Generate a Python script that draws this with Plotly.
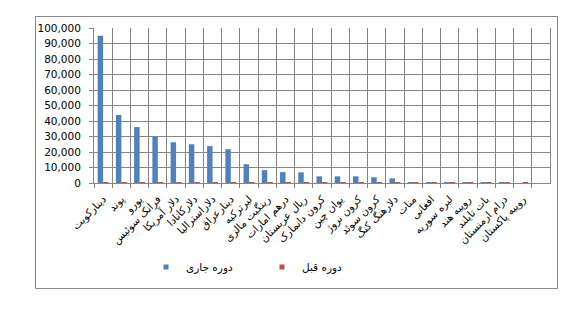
import plotly.graph_objects as go

categories = [
    "دینارکویت", "پوند", "یورو", "فرانک سوئیس", "دلار آمریکا", "دلارکانادا",
    "دلاراسترالیا", "دینارعراق", "لیرترکیه", "رینگیت مالزی", "درهم امارات",
    "ریال عربستان", "کرون دانمارک", "یوان چین", "کرون نروژ", "کرون سوئد",
    "دلارهنگ کنگ", "منات", "افغانی", "لیره سوریه", "روپیه هند", "بات تایلند",
    "درام ارمنستان", "روپیه پاکستان",
]
current = [95000, 43900, 36100, 29800, 26300, 25000, 23800, 21800, 12100, 8300,
           7000, 6900, 4300, 4300, 4300, 3700, 3000, 450, 450, 450, 450, 450, 450, None]
previous = [500, 500, 500, 500, 500, 500, 500, 500, 500, 500, 500, 500,
            500, 500, 500, 500, 500, 500, 500, 500, 500, 500, 500, 500]
name_current = "دوره جاری"
name_previous = "دوره قبل"
ytick_vals = list(range(0, 100001, 10000))

BLUE = "#4F81BD"
RED = "#C0504D"
GRID = "#878787"
FONT = "DejaVu Sans"

fig = go.Figure()
fig.add_trace(go.Bar(x=categories, y=current, marker=dict(color=BLUE, line=dict(width=0)),
                     showlegend=False, name=name_current))
fig.add_trace(go.Bar(x=categories, y=previous, marker=dict(color=RED, line=dict(width=0)),
                     showlegend=False, name=name_previous))
# legend entries (small square symbols like the reference)
fig.add_trace(go.Scatter(x=[None], y=[None], mode="markers", name=name_current,
                         marker=dict(symbol="square", size=5, color=BLUE), legend="legend"))
fig.add_trace(go.Scatter(x=[None], y=[None], mode="markers", name=name_previous,
                         marker=dict(symbol="square", size=5, color=RED), legend="legend2"))

L, R, T, B = 94, 35, 28, 127
W, H = 585, 310
pw, ph = W - L - R, H - T - B

def px_x(p):
    return (p - L) / pw

def px_y(p):
    return (H - B - p) / ph

fig.update_layout(
    width=W, height=H,
    margin=dict(l=L, r=R, t=T, b=B),
    paper_bgcolor="white", plot_bgcolor="white",
    font=dict(family=FONT, size=10.5, color="black"),
    barmode="group", bargap=0.4, bargroupgap=0,
    legend=dict(orientation="h", x=px_x(146), xanchor="left", y=px_y(267), yanchor="middle",
                font=dict(family=FONT, size=10.5, color="black"), bgcolor="rgba(0,0,0,0)"),
    legend2=dict(orientation="h", x=px_x(262), xanchor="left", y=px_y(267), yanchor="middle",
                 font=dict(family=FONT, size=10.5, color="black"), bgcolor="rgba(0,0,0,0)"),
    xaxis=dict(
        type="category", categoryorder="array", categoryarray=categories,
        range=[-0.5, len(categories) + 0.5], tickson="boundaries",
        showgrid=True, gridcolor=GRID, gridwidth=1,
        showline=True, linecolor=GRID, linewidth=1,
        ticks="outside", ticklen=4, tickcolor=GRID,
        ticklabelstandoff=5,
        tickangle=-45, tickfont=dict(family=FONT, size=10.5, color="black"),
        fixedrange=True,
    ),
    yaxis=dict(
        range=[0, 100000], tickvals=ytick_vals, tickformat=",",
        showgrid=True, gridcolor=GRID, gridwidth=1,
        showline=True, linecolor=GRID, linewidth=1, mirror=True,
        ticks="outside", ticklen=4, tickcolor=GRID,
        ticklabelstandoff=6,
        tickfont=dict(family=FONT, size=10.5, color="black"),
        zeroline=False, fixedrange=True,
    ),
    shapes=[dict(type="rect", xref="paper", yref="paper",
                 x0=px_x(35.5), x1=px_x(557.5), y0=px_y(288.5), y1=px_y(16.5),
                 line=dict(color=GRID, width=1), fillcolor="rgba(0,0,0,0)", layer="below")],
)

fig.write_html("out.html")
